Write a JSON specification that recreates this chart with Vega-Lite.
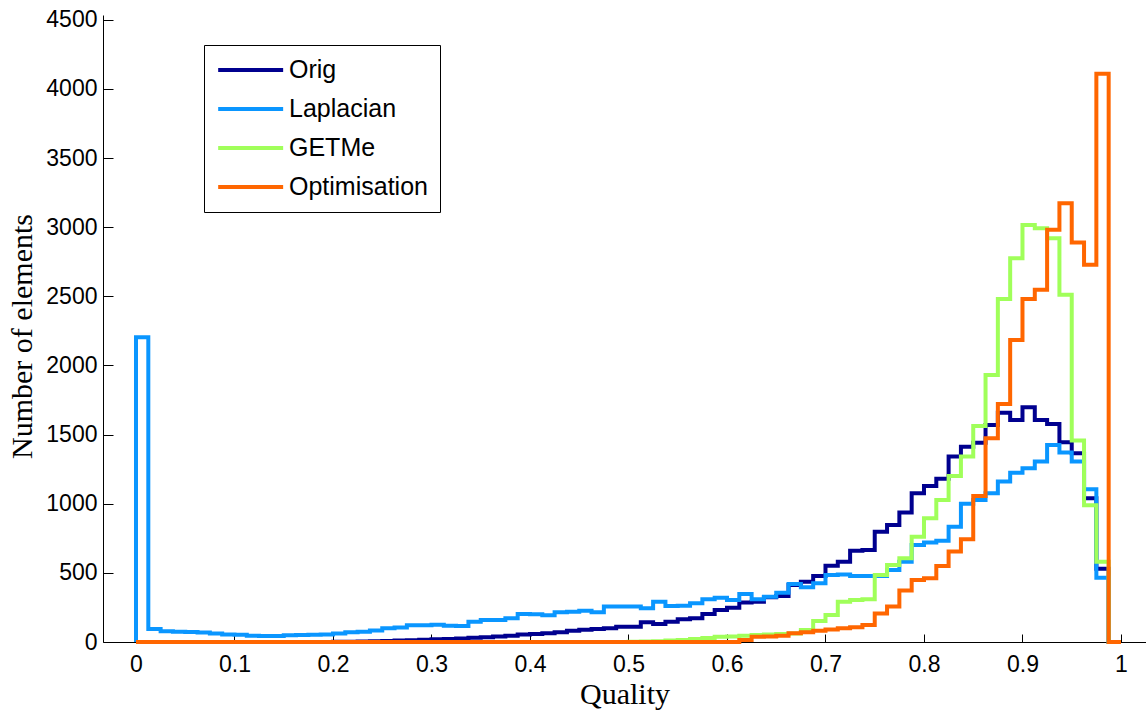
{
 "$schema": "https://vega.github.io/schema/vega-lite/v6.json",
 "width": 1043,
 "height": 627,
 "autosize": "none",
 "padding": {"left": 103, "top": 15, "right": 0, "bottom": 69},
 "background": "white",
 "config": {"view": {"stroke": null}, "font": "Liberation Sans"},
 "data": {"values": [
  {"k":0,"q":0,"Orig":0,"Laplacian":0,"GETMe":0,"Optimisation":0},
  {"k":1,"q":0,"Orig":0,"Laplacian":2205,"GETMe":0,"Optimisation":0},
  {"k":2,"q":0.0125,"Orig":0,"Laplacian":94,"GETMe":0,"Optimisation":0},
  {"k":3,"q":0.025,"Orig":0,"Laplacian":78,"GETMe":0,"Optimisation":0},
  {"k":4,"q":0.0375,"Orig":0,"Laplacian":75,"GETMe":0,"Optimisation":0},
  {"k":5,"q":0.05,"Orig":0,"Laplacian":72,"GETMe":0,"Optimisation":0},
  {"k":6,"q":0.0625,"Orig":0,"Laplacian":68,"GETMe":0,"Optimisation":0},
  {"k":7,"q":0.075,"Orig":0,"Laplacian":62,"GETMe":0,"Optimisation":0},
  {"k":8,"q":0.0875,"Orig":0,"Laplacian":55,"GETMe":0,"Optimisation":0},
  {"k":9,"q":0.1,"Orig":0,"Laplacian":52,"GETMe":0,"Optimisation":0},
  {"k":10,"q":0.1125,"Orig":0,"Laplacian":45,"GETMe":0,"Optimisation":0},
  {"k":11,"q":0.125,"Orig":0,"Laplacian":43,"GETMe":0,"Optimisation":0},
  {"k":12,"q":0.1375,"Orig":0,"Laplacian":43,"GETMe":0,"Optimisation":0},
  {"k":13,"q":0.15,"Orig":0,"Laplacian":48,"GETMe":0,"Optimisation":0},
  {"k":14,"q":0.1625,"Orig":0,"Laplacian":50,"GETMe":0,"Optimisation":0},
  {"k":15,"q":0.175,"Orig":0,"Laplacian":52,"GETMe":0,"Optimisation":0},
  {"k":16,"q":0.1875,"Orig":0,"Laplacian":55,"GETMe":0,"Optimisation":0},
  {"k":17,"q":0.2,"Orig":1,"Laplacian":62,"GETMe":0,"Optimisation":0},
  {"k":18,"q":0.2125,"Orig":2,"Laplacian":70,"GETMe":0,"Optimisation":0},
  {"k":19,"q":0.225,"Orig":3,"Laplacian":75,"GETMe":0,"Optimisation":0},
  {"k":20,"q":0.2375,"Orig":5,"Laplacian":84,"GETMe":0,"Optimisation":0},
  {"k":21,"q":0.25,"Orig":8,"Laplacian":100,"GETMe":0,"Optimisation":0},
  {"k":22,"q":0.2625,"Orig":10,"Laplacian":104,"GETMe":0,"Optimisation":0},
  {"k":23,"q":0.275,"Orig":13,"Laplacian":121,"GETMe":0,"Optimisation":0},
  {"k":24,"q":0.2875,"Orig":16,"Laplacian":121,"GETMe":0,"Optimisation":0},
  {"k":25,"q":0.3,"Orig":19,"Laplacian":125,"GETMe":0,"Optimisation":0},
  {"k":26,"q":0.3125,"Orig":22,"Laplacian":118,"GETMe":0,"Optimisation":0},
  {"k":27,"q":0.325,"Orig":26,"Laplacian":115,"GETMe":0,"Optimisation":0},
  {"k":28,"q":0.3375,"Orig":31,"Laplacian":147,"GETMe":0,"Optimisation":0},
  {"k":29,"q":0.35,"Orig":35,"Laplacian":159,"GETMe":0,"Optimisation":0},
  {"k":30,"q":0.3625,"Orig":40,"Laplacian":160,"GETMe":0,"Optimisation":0},
  {"k":31,"q":0.375,"Orig":46,"Laplacian":171,"GETMe":0,"Optimisation":0},
  {"k":32,"q":0.3875,"Orig":55,"Laplacian":203,"GETMe":0,"Optimisation":0},
  {"k":33,"q":0.4,"Orig":58,"Laplacian":200,"GETMe":0,"Optimisation":0},
  {"k":34,"q":0.4125,"Orig":63,"Laplacian":193,"GETMe":0,"Optimisation":0},
  {"k":35,"q":0.425,"Orig":70,"Laplacian":215,"GETMe":0,"Optimisation":0},
  {"k":36,"q":0.4375,"Orig":82,"Laplacian":218,"GETMe":0,"Optimisation":0},
  {"k":37,"q":0.45,"Orig":88,"Laplacian":226,"GETMe":0,"Optimisation":0},
  {"k":38,"q":0.4625,"Orig":94,"Laplacian":215,"GETMe":0,"Optimisation":0},
  {"k":39,"q":0.475,"Orig":99,"Laplacian":256,"GETMe":0,"Optimisation":0},
  {"k":40,"q":0.4875,"Orig":111,"Laplacian":256,"GETMe":0,"Optimisation":0},
  {"k":41,"q":0.5,"Orig":111,"Laplacian":256,"GETMe":2,"Optimisation":0},
  {"k":42,"q":0.5125,"Orig":142,"Laplacian":244,"GETMe":4,"Optimisation":0},
  {"k":43,"q":0.525,"Orig":130,"Laplacian":292,"GETMe":6,"Optimisation":0},
  {"k":44,"q":0.5375,"Orig":147,"Laplacian":260,"GETMe":10,"Optimisation":0},
  {"k":45,"q":0.55,"Orig":164,"Laplacian":262,"GETMe":15,"Optimisation":0},
  {"k":46,"q":0.5625,"Orig":171,"Laplacian":280,"GETMe":22,"Optimisation":0},
  {"k":47,"q":0.575,"Orig":203,"Laplacian":309,"GETMe":29,"Optimisation":0},
  {"k":48,"q":0.5875,"Orig":232,"Laplacian":320,"GETMe":38,"Optimisation":0},
  {"k":49,"q":0.6,"Orig":248,"Laplacian":304,"GETMe":40,"Optimisation":0},
  {"k":50,"q":0.6125,"Orig":285,"Laplacian":347,"GETMe":45,"Optimisation":14},
  {"k":51,"q":0.625,"Orig":292,"Laplacian":309,"GETMe":51,"Optimisation":38},
  {"k":52,"q":0.6375,"Orig":323,"Laplacian":328,"GETMe":55,"Optimisation":40},
  {"k":53,"q":0.65,"Orig":333,"Laplacian":357,"GETMe":58,"Optimisation":45},
  {"k":54,"q":0.6625,"Orig":412,"Laplacian":420,"GETMe":62,"Optimisation":63},
  {"k":55,"q":0.675,"Orig":436,"Laplacian":396,"GETMe":87,"Optimisation":70},
  {"k":56,"q":0.6875,"Orig":478,"Laplacian":425,"GETMe":152,"Optimisation":82},
  {"k":57,"q":0.7,"Orig":552,"Laplacian":485,"GETMe":195,"Optimisation":90},
  {"k":58,"q":0.7125,"Orig":581,"Laplacian":488,"GETMe":292,"Optimisation":99},
  {"k":59,"q":0.725,"Orig":660,"Laplacian":478,"GETMe":304,"Optimisation":106},
  {"k":60,"q":0.7375,"Orig":666,"Laplacian":478,"GETMe":310,"Optimisation":123},
  {"k":61,"q":0.75,"Orig":798,"Laplacian":478,"GETMe":485,"Optimisation":207},
  {"k":62,"q":0.7625,"Orig":847,"Laplacian":521,"GETMe":557,"Optimisation":256},
  {"k":63,"q":0.775,"Orig":936,"Laplacian":581,"GETMe":605,"Optimisation":372},
  {"k":64,"q":0.7875,"Orig":1076,"Laplacian":702,"GETMe":762,"Optimisation":449},
  {"k":65,"q":0.8,"Orig":1129,"Laplacian":719,"GETMe":895,"Optimisation":461},
  {"k":66,"q":0.8125,"Orig":1180,"Laplacian":733,"GETMe":1027,"Optimisation":550},
  {"k":67,"q":0.825,"Orig":1341,"Laplacian":834,"GETMe":1201,"Optimisation":654},
  {"k":68,"q":0.8375,"Orig":1413,"Laplacian":1000,"GETMe":1341,"Optimisation":743},
  {"k":69,"q":0.85,"Orig":1442,"Laplacian":1027,"GETMe":1563,"Optimisation":1056},
  {"k":70,"q":0.8625,"Orig":1570,"Laplacian":1076,"GETMe":1932,"Optimisation":1474},
  {"k":71,"q":0.875,"Orig":1659,"Laplacian":1160,"GETMe":2480,"Optimisation":1722},
  {"k":72,"q":0.8875,"Orig":1606,"Laplacian":1225,"GETMe":2776,"Optimisation":2185},
  {"k":73,"q":0.9,"Orig":1698,"Laplacian":1257,"GETMe":3017,"Optimisation":2480},
  {"k":74,"q":0.9125,"Orig":1606,"Laplacian":1305,"GETMe":2993,"Optimisation":2547},
  {"k":75,"q":0.925,"Orig":1577,"Laplacian":1425,"GETMe":2921,"Optimisation":2981},
  {"k":76,"q":0.9375,"Orig":1445,"Laplacian":1370,"GETMe":2511,"Optimisation":3174},
  {"k":77,"q":0.95,"Orig":1365,"Laplacian":1305,"GETMe":1457,"Optimisation":2889},
  {"k":78,"q":0.9625,"Orig":1040,"Laplacian":1105,"GETMe":990,"Optimisation":2728},
  {"k":79,"q":0.975,"Orig":530,"Laplacian":465,"GETMe":580,"Optimisation":4110},
  {"k":80,"q":0.9875,"Orig":0,"Laplacian":0,"GETMe":0,"Optimisation":0},
  {"k":81,"q":1,"Orig":0,"Laplacian":0,"GETMe":0,"Optimisation":0}
 ]},
 "transform": [{"fold": ["Orig", "Laplacian", "GETMe", "Optimisation"], "as": ["series", "count"]}],
 "encoding": {
  "x": {
   "field": "q", "type": "quantitative",
   "scale": {"domain": [-0.0335, 1.0254], "nice": false, "zero": false},
   "axis": {
    "title": "Quality",
    "values": [0, 0.1, 0.2, 0.3, 0.4, 0.5, 0.6, 0.7, 0.8, 0.9, 1],
    "format": "~g",
    "grid": false,
    "tickSize": -8, "tickColor": "black", "tickWidth": 1,
    "domainColor": "black", "domainWidth": 1,
    "labelPadding": 19, "labelFontSize": 23, "labelColor": "black", "labelFont": "Liberation Sans",
    "labelFlush": false, "labelOverlap": false,
    "titleFont": "Liberation Serif", "titleFontSize": 30, "titleFontWeight": "normal", "titleColor": "black",
    "titleX": 521.5, "titleY": 61, "titleBaseline": "alphabetic", "titleAlign": "center"
   }
  },
  "y": {
   "field": "count", "type": "quantitative",
   "scale": {"domain": [0, 4535], "nice": false},
   "axis": {
    "title": "Number of elements",
    "values": [0, 500, 1000, 1500, 2000, 2500, 3000, 3500, 4000, 4500],
    "format": "d",
    "grid": false,
    "tickSize": -10, "tickColor": "black", "tickWidth": 1,
    "domainColor": "black", "domainWidth": 1,
    "labelPadding": 16, "labelFontSize": 23, "labelColor": "black", "labelFont": "Liberation Sans",
    "labelFlush": false, "labelOverlap": false,
    "titleFont": "Liberation Serif", "titleFontSize": 30, "titleFontWeight": "normal", "titleColor": "black",
    "titleX": -72, "titleY": 321, "titleBaseline": "alphabetic", "titleAlign": "center", "titleAngle": 270
   }
  },
  "color": {
   "field": "series", "type": "nominal",
   "scale": {"domain": ["Orig", "Laplacian", "GETMe", "Optimisation"], "range": ["#00008F", "#0A96FF", "#A0FF5A", "#FF6600"]},
   "legend": {
    "title": null, "orient": "none", "legendX": 101, "legendY": 30,
    "symbolType": "M-1,0H5", "symbolSize": 469, "symbolStrokeWidth": 4,
    "labelFontSize": 25, "labelFont": "Liberation Sans", "labelColor": "black", "labelOffset": 47, "labelLimit": 0,
    "rowPadding": 13, "padding": 12,
    "strokeColor": "black", "fillColor": "white", "cornerRadius": 0
   }
  },
  "order": {"field": "k", "type": "quantitative"}
 },
 "layer": [
  {"transform": [{"filter": "datum.series === 'Orig'"}], "mark": {"type": "line", "interpolate": "step-after", "strokeWidth": 4, "strokeJoin": "miter"}},
  {"transform": [{"filter": "datum.series === 'Laplacian'"}], "mark": {"type": "line", "interpolate": "step-after", "strokeWidth": 4, "strokeJoin": "miter"}},
  {"transform": [{"filter": "datum.series === 'GETMe'"}], "mark": {"type": "line", "interpolate": "step-after", "strokeWidth": 4, "strokeJoin": "miter"}},
  {"transform": [{"filter": "datum.series === 'Optimisation'"}], "mark": {"type": "line", "interpolate": "step-after", "strokeWidth": 4, "strokeJoin": "miter"}}
 ]
}
